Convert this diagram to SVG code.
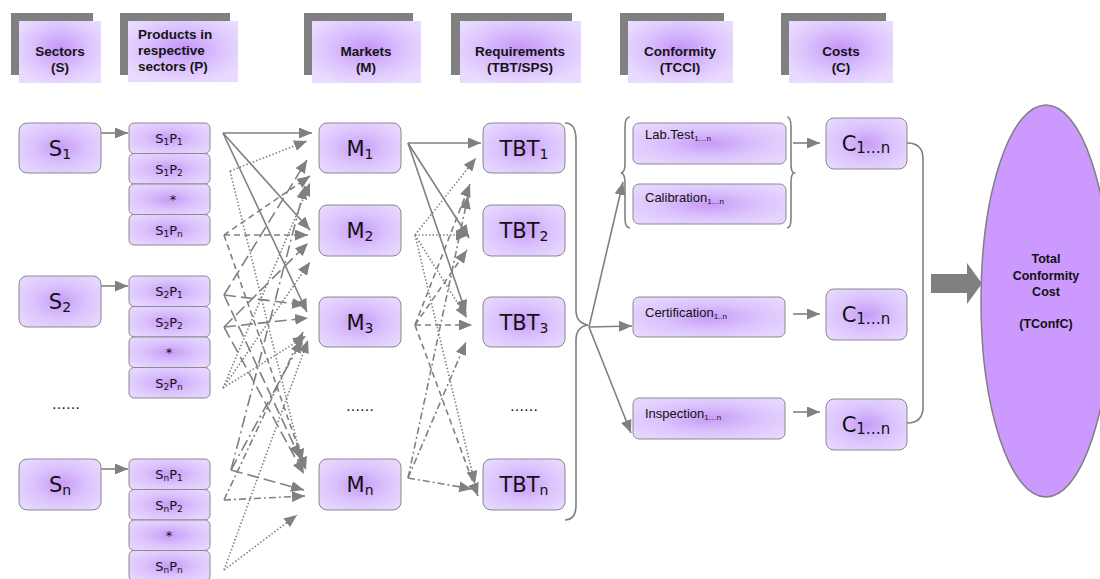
<svg xmlns="http://www.w3.org/2000/svg" width="1100" height="579" viewBox="0 0 1100 579">
<defs>
<radialGradient id="ng" cx="50%" cy="50%" r="60%">
<stop offset="0" stop-color="#c79bf6"/>
<stop offset="0.55" stop-color="#dbc3fd"/>
<stop offset="1" stop-color="#e6d6ff"/>
</radialGradient>
<radialGradient id="hg" cx="50%" cy="45%" r="60%">
<stop offset="0" stop-color="#c595f7"/>
<stop offset="0.6" stop-color="#dcc4fe"/>
<stop offset="1" stop-color="#e9dbff"/>
</radialGradient>
<marker id="ah" viewBox="0 0 13 11" refX="13" refY="5.5" markerWidth="13" markerHeight="11" markerUnits="userSpaceOnUse" orient="auto">
<path d="M0,0 L13,5.5 L0,11 z" fill="#808080"/>
</marker>
<style>
.shadow{fill:#808080}
.hdr{fill:url(#hg)}
.node{fill:url(#ng);stroke:#8a8a8a;stroke-width:1}
.ht{font-family:"Liberation Sans",Arial,sans-serif;font-weight:bold;font-size:13.5px;fill:#141414}
.big{font-family:"DejaVu Sans",Verdana,sans-serif;font-size:21px;fill:#111;text-anchor:middle}
.sm{font-family:"DejaVu Sans",Verdana,sans-serif;font-size:13px;fill:#111;text-anchor:middle}
.lt{font-family:"Liberation Sans",Arial,sans-serif;font-size:13px;fill:#111}
.dots{font-family:"DejaVu Sans",sans-serif;font-size:14px;fill:#111;text-anchor:middle}
.et{font-family:"Liberation Sans",Arial,sans-serif;font-weight:bold;font-size:12.5px;fill:#111;text-anchor:middle}
.c{fill:none;stroke:#808080;stroke-width:1.6;marker-end:url(#ah)}
.solid{}
.dot{stroke-dasharray:1.5 2}
.dash{stroke-dasharray:6 4}
.long{stroke-dasharray:12 5}
.ldd{stroke-dasharray:12 4 2 4}
.dd{stroke-dasharray:7 3 2 3}
.plain{fill:none;stroke:#808080;stroke-width:1.6}
</style>
</defs>
<rect width="1100" height="579" fill="#ffffff"/>

<!-- Headers -->
<g id="hdr-sectors">
<rect class="shadow" x="11" y="13" width="82" height="62"/>
<rect class="hdr" x="19" y="21" width="82" height="62"/>
<text class="ht" x="60" y="56" text-anchor="middle">Sectors</text>
<text class="ht" x="60" y="72" text-anchor="middle">(S)</text>
</g>
<g id="hdr-products">
<rect class="shadow" x="120" y="13" width="110" height="62"/>
<rect class="hdr" x="128" y="21" width="110" height="61"/>
<text class="ht" x="138" y="39">Products in</text>
<text class="ht" x="138" y="55">respective</text>
<text class="ht" x="138" y="71">sectors (P)</text>
</g>
<g id="hdr-markets">
<rect class="shadow" x="304" y="13" width="109" height="62"/>
<rect class="hdr" x="312" y="21" width="109" height="62"/>
<text class="ht" x="366" y="56" text-anchor="middle">Markets</text>
<text class="ht" x="366" y="72" text-anchor="middle">(M)</text>
</g>
<g id="hdr-requirements">
<rect class="shadow" x="451" y="13" width="121" height="62"/>
<rect class="hdr" x="460" y="21" width="121" height="62"/>
<text class="ht" x="520" y="56" text-anchor="middle">Requirements</text>
<text class="ht" x="520" y="72" text-anchor="middle">(TBT/SPS)</text>
</g>
<g id="hdr-conformity">
<rect class="shadow" x="620" y="13" width="104" height="62"/>
<rect class="hdr" x="628" y="21" width="105" height="62"/>
<text class="ht" x="680" y="56" text-anchor="middle">Conformity</text>
<text class="ht" x="680" y="72" text-anchor="middle">(TCCI)</text>
</g>
<g id="hdr-costs">
<rect class="shadow" x="781" y="13" width="105" height="62"/>
<rect class="hdr" x="789" y="21" width="104" height="62"/>
<text class="ht" x="841" y="56" text-anchor="middle">Costs</text>
<text class="ht" x="841" y="72" text-anchor="middle">(C)</text>
</g>

<!-- Connectors -->
<g id="connectors">
<path class="c" d="M101,133 L128,133"/>
<path class="c" d="M101,286 L128,286"/>
<path class="c" d="M101,469 L128,469"/>
<path class="c solid" d="M223,133 L312,133"/>
<path class="c solid" d="M223,133 L310,230"/>
<path class="c solid" d="M223,133 L307,312"/>
<path class="c dot" d="M230,171 L307,141"/>
<path class="c dot" d="M230,171 L302,462"/>
<path class="c dash" d="M224,235 L308,235"/>
<path class="c dash" d="M224,235 L310,176"/>
<path class="c dash" d="M224,235 L306,470"/>
<path class="c long" d="M224,295 L307,160"/>
<path class="c long" d="M224,295 L305,305"/>
<path class="c long" d="M224,295 L300,458"/>
<path class="c long" d="M224,327 L308,243"/>
<path class="c long" d="M224,327 L308,318"/>
<path class="c long" d="M224,327 L304,474"/>
<path class="c dot" d="M223,388 L310,183"/>
<path class="c dot" d="M223,388 L310,262"/>
<path class="c dot" d="M223,388 L306,336"/>
<path class="c ldd" d="M231,470 L305,186"/>
<path class="c ldd" d="M231,470 L302,340"/>
<path class="c long" d="M231,470 L304,490"/>
<path class="c dd" d="M224,500 L305,496"/>
<path class="c dd" d="M224,500 L303,332"/>
<path class="c dot" d="M224,570 L297,515"/>
<path class="c dot" d="M224,570 L308,340"/>
<path class="c solid" d="M408,143 L481,143"/>
<path class="c solid" d="M408,143 L469,238"/>
<path class="c solid" d="M408,143 L466,313"/>
<path class="c dot" d="M415,235 L476,158"/>
<path class="c dot" d="M415,235 L469,235"/>
<path class="c dot" d="M415,235 L475,484"/>
<path class="c dot" d="M415,235 L467,318"/>
<path class="c dash" d="M415,325 L472,325"/>
<path class="c dash" d="M415,325 L470,184"/>
<path class="c dash" d="M415,325 L478,496"/>
<path class="c dash" d="M415,325 L467,250"/>
<path class="c dd" d="M408,478 L472,489"/>
<path class="c dd" d="M408,478 L466,342"/>
<path class="c dd" d="M408,478 L468,196"/>
<path class="plain" d="M565,123 Q576,123 576,140 L576,310 Q576,323 588,325 Q576,327 576,340 L576,505 Q576,520 565,520"/>
<path class="c" d="M589,327 L623,182"/>
<path class="c" d="M589,327 L632,326"/>
<path class="c" d="M589,327 L631,433"/>
<path class="plain" d="M630,117 Q625,117 625,127 L625,164 Q625,172 621,173 Q625,174 625,182 L625,218 Q625,228 630,228"/>
<path class="plain" d="M787,117 Q791,117 791,127 L791,164 Q791,172 794,173 Q791,174 791,182 L791,218 Q791,228 787,228"/>
<path class="c" d="M793,143 L820,143"/>
<path class="c" d="M793,314 L820,314"/>
<path class="c" d="M793,412 L820,412"/>
<path class="plain" d="M907,143 Q923,143 923,159 L923,407 Q923,423 907,423"/>
<polygon points="931,274 967,274 967,263 982,283.5 967,304 967,293 931,293" fill="#808080"/>
</g>

<!-- Sectors -->
<g id="S1"><rect class="node" x="19" y="123" width="82" height="50" rx="8"/><text class="big" x="60" y="156">S<tspan font-size="14" dy="3">1</tspan></text></g>
<g id="S2"><rect class="node" x="19" y="276" width="82" height="51" rx="8"/><text class="big" x="60" y="309">S<tspan font-size="14" dy="3">2</tspan></text></g>
<g id="Sdots"><text class="dots" x="66" y="409">……</text></g>
<g id="Sn"><rect class="node" x="19" y="459" width="82" height="51" rx="8"/><text class="big" x="60" y="492">S<tspan font-size="14" dy="3">n</tspan></text></g>

<!-- Products -->
<g id="S1P1"><rect class="node" x="129" y="123" width="81" height="30.5" rx="5"/><text class="sm" x="169" y="143">S<tspan font-size="9" dy="2">1</tspan><tspan dy="-2">P</tspan><tspan font-size="9" dy="2">1</tspan></text></g>
<g id="S1P2"><rect class="node" x="129" y="153.5" width="81" height="30.5" rx="5"/><text class="sm" x="169" y="174">S<tspan font-size="9" dy="2">1</tspan><tspan dy="-2">P</tspan><tspan font-size="9" dy="2">2</tspan></text></g>
<g id="S1Px"><rect class="node" x="129" y="184" width="81" height="30.5" rx="5"/><text class="sm" x="173" y="204">*</text></g>
<g id="S1Pn"><rect class="node" x="129" y="214.5" width="81" height="30.5" rx="5"/><text class="sm" x="169" y="235">S<tspan font-size="9" dy="2">1</tspan><tspan dy="-2">P</tspan><tspan font-size="9" dy="2">n</tspan></text></g>

<g id="S2P1"><rect class="node" x="129" y="276" width="81" height="30.5" rx="5"/><text class="sm" x="169" y="296">S<tspan font-size="9" dy="2">2</tspan><tspan dy="-2">P</tspan><tspan font-size="9" dy="2">1</tspan></text></g>
<g id="S2P2"><rect class="node" x="129" y="306.5" width="81" height="30.5" rx="5"/><text class="sm" x="169" y="327">S<tspan font-size="9" dy="2">2</tspan><tspan dy="-2">P</tspan><tspan font-size="9" dy="2">2</tspan></text></g>
<g id="S2Px"><rect class="node" x="129" y="337" width="81" height="30.5" rx="5"/><text class="sm" x="169" y="357">*</text></g>
<g id="S2Pn"><rect class="node" x="129" y="367.5" width="81" height="30.5" rx="5"/><text class="sm" x="169" y="388">S<tspan font-size="9" dy="2">2</tspan><tspan dy="-2">P</tspan><tspan font-size="9" dy="2">n</tspan></text></g>

<g id="SnP1"><rect class="node" x="129" y="459" width="81" height="30.5" rx="5"/><text class="sm" x="169" y="479">S<tspan font-size="9" dy="2">n</tspan><tspan dy="-2">P</tspan><tspan font-size="9" dy="2">1</tspan></text></g>
<g id="SnP2"><rect class="node" x="129" y="489.5" width="81" height="30.5" rx="5"/><text class="sm" x="169" y="510">S<tspan font-size="9" dy="2">n</tspan><tspan dy="-2">P</tspan><tspan font-size="9" dy="2">2</tspan></text></g>
<g id="SnPx"><rect class="node" x="129" y="520" width="81" height="30.5" rx="5"/><text class="sm" x="169" y="540">*</text></g>
<g id="SnPn"><rect class="node" x="129" y="550.5" width="81" height="30.5" rx="5"/><text class="sm" x="169" y="571">S<tspan font-size="9" dy="2">n</tspan><tspan dy="-2">P</tspan><tspan font-size="9" dy="2">n</tspan></text></g>

<!-- Markets -->
<g id="M1"><rect class="node" x="319" y="123" width="82" height="50" rx="8"/><text class="big" x="360" y="156">M<tspan font-size="14" dy="3">1</tspan></text></g>
<g id="M2"><rect class="node" x="319" y="205" width="82" height="51" rx="8"/><text class="big" x="360" y="238">M<tspan font-size="14" dy="3">2</tspan></text></g>
<g id="M3"><rect class="node" x="319" y="297" width="82" height="50" rx="8"/><text class="big" x="360" y="330">M<tspan font-size="14" dy="3">3</tspan></text></g>
<g id="Mdots"><text class="dots" x="360" y="411">……</text></g>
<g id="Mn"><rect class="node" x="319" y="459" width="82" height="51" rx="8"/><text class="big" x="360" y="492">M<tspan font-size="14" dy="3">n</tspan></text></g>

<!-- Requirements -->
<g id="TBT1"><rect class="node" x="483" y="123" width="82" height="50" rx="8"/><text class="big" x="524" y="156">TBT<tspan font-size="14" dy="3">1</tspan></text></g>
<g id="TBT2"><rect class="node" x="483" y="205" width="82" height="51" rx="8"/><text class="big" x="524" y="238">TBT<tspan font-size="14" dy="3">2</tspan></text></g>
<g id="TBT3"><rect class="node" x="483" y="297" width="82" height="50" rx="8"/><text class="big" x="524" y="330">TBT<tspan font-size="14" dy="3">3</tspan></text></g>
<g id="Tdots"><text class="dots" x="524" y="411">……</text></g>
<g id="TBTn"><rect class="node" x="483" y="459" width="82" height="51" rx="8"/><text class="big" x="524" y="492">TBT<tspan font-size="14" dy="3">n</tspan></text></g>

<!-- Conformity -->
<g id="LabTest"><rect class="node" x="633" y="123" width="153" height="41" rx="6"/><text class="lt" x="645" y="139">Lab.Test<tspan font-size="8" dy="2">1…n</tspan></text></g>
<g id="Calibration"><rect class="node" x="633" y="184" width="153" height="40" rx="6"/><text class="lt" x="645" y="202">Calibration<tspan font-size="8" dy="2">1…n</tspan></text></g>
<g id="Certification"><rect class="node" x="633" y="297" width="152" height="40" rx="6"/><text class="lt" x="645" y="317">Certification<tspan font-size="8" dy="2">1..n</tspan></text></g>
<g id="Inspection"><rect class="node" x="633" y="398" width="152" height="41" rx="6"/><text class="lt" x="645" y="418">Inspection<tspan font-size="8" dy="2">1…n</tspan></text></g>

<!-- Costs -->
<g id="C1"><rect class="node" x="826" y="118" width="81" height="51" rx="8"/><text class="big" x="866" y="151">C<tspan font-size="15" dy="2">1…n</tspan></text></g>
<g id="C2"><rect class="node" x="826" y="289" width="81" height="51" rx="8"/><text class="big" x="866" y="322">C<tspan font-size="15" dy="2">1…n</tspan></text></g>
<g id="C3"><rect class="node" x="826" y="399" width="81" height="51" rx="8"/><text class="big" x="866" y="432">C<tspan font-size="15" dy="2">1…n</tspan></text></g>

<!-- Total -->
<g id="TConfC">
<ellipse cx="1046" cy="301" rx="65" ry="196" fill="#cc99ff" stroke="#7f7f7f" stroke-width="1.5"/>
<text class="et" x="1046" y="263">Total</text>
<text class="et" x="1046" y="280">Conformity</text>
<text class="et" x="1046" y="296">Cost</text>
<text class="et" x="1046" y="328">(TConfC)</text>
</g>
</svg>
